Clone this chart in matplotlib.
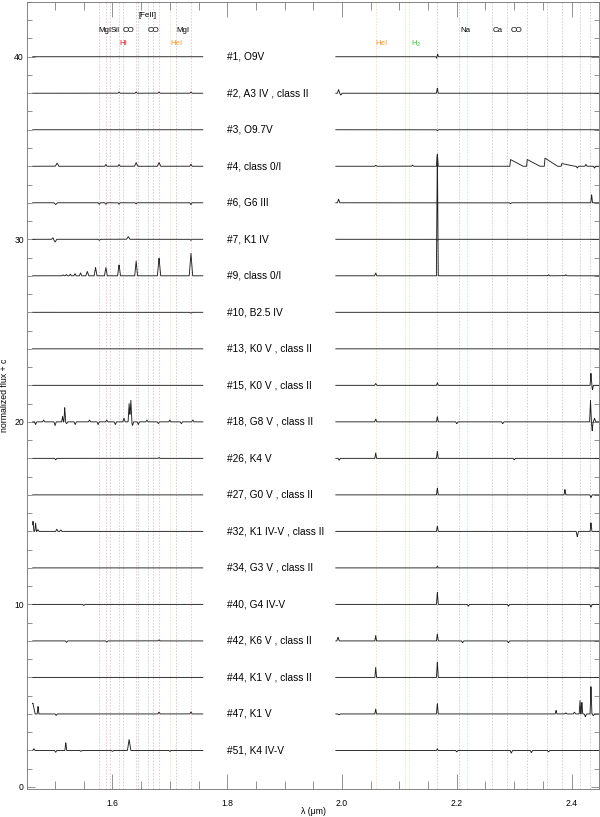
import matplotlib
matplotlib.use('Agg')
import matplotlib.pyplot as plt
from matplotlib.ticker import MultipleLocator
import numpy as np

plt.rcParams['font.family'] = ['Liberation Sans', 'DejaVu Sans']
plt.rcParams['mathtext.fontset'] = 'custom'
plt.rcParams['mathtext.rm'] = 'Liberation Sans'
plt.rcParams['mathtext.it'] = 'Liberation Sans:italic'
plt.rcParams['mathtext.bf'] = 'Liberation Sans:bold'

# ---------------- data ----------------
star_ids = ['#1', '#2', '#3', '#4', '#6', '#7', '#9', '#10', '#13', '#15',
            '#18', '#26', '#27', '#32', '#34', '#40', '#42', '#44', '#47', '#51']
spectral_types = ['O9V', 'A3 IV , class II', 'O9.7V', 'class 0/I', 'G6 III',
                  'K1 IV', 'class 0/I', 'B2.5 IV', 'K0 V , class II', 'K0 V , class II',
                  'G8 V , class II', 'K4 V', 'G0 V , class II', 'K1 IV-V , class II',
                  'G3 V , class II', 'G4 IV-V', 'K6 V , class II', 'K1 V , class II',
                  'K1 V', 'K4 IV-V']
offsets = [40, 38, 36, 34, 32, 30, 28, 26, 24, 22, 20, 18, 16, 14, 12, 10, 8, 6, 4, 2]

h_band = (1.461, 1.7575)
k_band = (1.9892, 2.448)

# (star, wavelength [um], normalized flux excess, half width [um])
h_features = [
    ('#2', 1.6114, 0.07, 0.002), ('#2', 1.6412, 0.07, 0.002), ('#2', 1.6811, 0.07, 0.002),
    ('#2', 1.7367, 0.07, 0.002),
    ('#4', 1.5034, 0.18, 0.003), ('#4', 1.5885, 0.10, 0.002), ('#4', 1.6114, 0.10, 0.002),
    ('#4', 1.6412, 0.20, 0.003), ('#4', 1.6811, 0.20, 0.003), ('#4', 1.7367, 0.12, 0.002),
    ('#6', 1.5010, -0.10, 0.003), ('#6', 1.5770, -0.08, 0.002), ('#6', 1.5885, -0.08, 0.002),
    ('#6', 1.6114, -0.08, 0.002), ('#6', 1.6412, -0.06, 0.002), ('#6', 1.7367, -0.10, 0.002),
    ('#7', 1.4960, 0.08, 0.002), ('#7', 1.5000, -0.15, 0.003), ('#7', 1.5770, -0.06, 0.002),
    ('#7', 1.6274, 0.15, 0.003), ('#7', 1.7367, -0.06, 0.002),
    ('#9', 1.5137, 0.05, 0.002), ('#9', 1.5196, 0.07, 0.002), ('#9', 1.5265, 0.09, 0.002),
    ('#9', 1.5346, 0.12, 0.002), ('#9', 1.5443, 0.16, 0.002), ('#9', 1.5561, 0.24, 0.0025),
    ('#9', 1.5705, 0.46, 0.0025), ('#9', 1.5885, 0.45, 0.0025), ('#9', 1.6114, 0.62, 0.0025),
    ('#9', 1.6412, 0.82, 0.0025), ('#9', 1.6811, 1.00, 0.0028), ('#9', 1.7367, 1.25, 0.003),
    ('#10', 1.7367, -0.05, 0.002),
    ('#18', 1.4660, -0.15, 0.002), ('#18', 1.4800, 0.10, 0.002), ('#18', 1.5000, -0.20, 0.002),
    ('#18', 1.5130, 0.30, 0.0015), ('#18', 1.5168, 0.80, 0.0015), ('#18', 1.5200, -0.10, 0.002),
    ('#18', 1.5350, -0.15, 0.002), ('#18', 1.5600, 0.10, 0.002), ('#18', 1.5750, -0.15, 0.002),
    ('#18', 1.5900, 0.10, 0.002), ('#18', 1.6050, -0.15, 0.002), ('#18', 1.6200, 0.20, 0.002),
    ('#18', 1.6290, 1.00, 0.0018), ('#18', 1.6319, 1.25, 0.0018), ('#18', 1.6350, -0.20, 0.002),
    ('#18', 1.6450, -0.15, 0.002), ('#18', 1.6600, 0.10, 0.002), ('#18', 1.6800, -0.10, 0.002),
    ('#18', 1.7000, 0.10, 0.002), ('#18', 1.7200, -0.10, 0.002), ('#18', 1.7400, 0.10, 0.002),
    ('#26', 1.5010, -0.08, 0.002), ('#26', 1.6811, 0.05, 0.002),
    ('#32', 1.4615, 0.55, 0.0015), ('#32', 1.4660, 0.45, 0.0015), ('#32', 1.4700, 0.10, 0.002),
    ('#32', 1.5030, 0.12, 0.002), ('#32', 1.5100, 0.08, 0.002),
    ('#40', 1.5500, -0.06, 0.002),
    ('#42', 1.5200, -0.08, 0.002), ('#42', 1.5900, -0.06, 0.002), ('#42', 1.6811, 0.06, 0.002),
    ('#47', 1.4612, 0.60, 0.004), ('#47', 1.4703, 0.42, 0.0015), ('#47', 1.5018, -0.08, 0.002),
    ('#47', 1.6811, 0.10, 0.002), ('#47', 1.7367, 0.12, 0.002),
    ('#51', 1.4630, 0.10, 0.002), ('#51', 1.5010, -0.10, 0.002), ('#51', 1.5186, 0.45, 0.0015),
    ('#51', 1.5450, -0.05, 0.002), ('#51', 1.6000, -0.05, 0.002), ('#51', 1.6290, 0.60, 0.003),
    ('#51', 1.7000, -0.05, 0.002),
]

k_features = [
    ('#1', 2.1650, -0.08, 0.0015), ('#1', 2.1665, 0.15, 0.0015),
    ('#2', 1.9940, 0.20, 0.002), ('#2', 1.9980, -0.10, 0.002), ('#2', 2.1661, 0.30, 0.0015),
    ('#3', 2.1661, -0.05, 0.002),
    ('#4', 2.0587, 0.05, 0.002), ('#4', 2.1230, 0.06, 0.002), ('#4', 2.1661, 0.70, 0.0015),
    ('#4', 2.4100, -0.10, 0.002), ('#4', 2.4250, 0.10, 0.002), ('#4', 2.4400, -0.10, 0.002),
    ('#6', 1.9940, 0.20, 0.002), ('#6', 2.2935, -0.05, 0.002), ('#6', 2.4350, 0.45, 0.0015),
    ('#7', 2.1661, -0.05, 0.002),
    ('#9', 2.0587, 0.15, 0.002), ('#9', 2.1661, 7.10, 0.0016), ('#9', 2.3600, 0.06, 0.002),
    ('#9', 2.3900, 0.06, 0.002),
    ('#15', 2.0587, 0.10, 0.002), ('#15', 2.1661, 0.15, 0.0015), ('#15', 2.4338, 0.70, 0.0015),
    ('#15', 2.4365, -0.25, 0.0015),
    ('#18', 2.0587, 0.15, 0.002), ('#18', 2.1661, 0.30, 0.0015), ('#18', 2.2000, -0.10, 0.002),
    ('#18', 2.2800, -0.10, 0.002), ('#18', 2.4330, 1.20, 0.0015), ('#18', 2.4360, -0.50, 0.0015),
    ('#18', 2.4400, 0.20, 0.002),
    ('#26', 1.9950, -0.10, 0.002), ('#26', 2.0587, 0.30, 0.0015), ('#26', 2.1661, 0.40, 0.0015),
    ('#26', 2.3000, -0.08, 0.002),
    ('#27', 2.1661, 0.40, 0.0015), ('#27', 2.3885, 0.30, 0.0015), ('#27', 2.4338, -0.15, 0.002),
    ('#32', 2.1661, 0.30, 0.0015), ('#32', 2.4100, -0.30, 0.002), ('#32', 2.4338, 0.50, 0.0015),
    ('#34', 2.1661, 0.10, 0.0015),
    ('#40', 2.1661, 0.70, 0.0015), ('#40', 2.2200, -0.10, 0.002), ('#40', 2.2900, -0.10, 0.002),
    ('#40', 2.4338, -0.15, 0.002),
    ('#42', 1.9930, 0.20, 0.002), ('#42', 2.0587, 0.30, 0.0015), ('#42', 2.1661, 0.40, 0.0015),
    ('#42', 2.2100, -0.10, 0.002), ('#42', 2.2900, -0.10, 0.002),
    ('#44', 2.0587, 0.55, 0.0015), ('#44', 2.1661, 0.90, 0.0015),
    ('#47', 1.9950, -0.05, 0.002), ('#47', 2.0587, 0.27, 0.0015), ('#47', 2.1661, 0.60, 0.0015),
    ('#47', 2.3730, 0.20, 0.0015), ('#47', 2.3900, 0.06, 0.002), ('#47', 2.4050, 0.10, 0.002),
    ('#47', 2.4147, 0.73, 0.0015), ('#47', 2.4180, 0.65, 0.0015), ('#47', 2.4240, -0.15, 0.002),
    ('#47', 2.4338, 1.60, 0.0015), ('#47', 2.4380, -0.10, 0.002),
    ('#51', 2.1661, 0.10, 0.0015), ('#51', 2.2000, -0.08, 0.002), ('#51', 2.2950, -0.15, 0.002),
    ('#51', 2.3300, -0.12, 0.002), ('#51', 2.3600, -0.08, 0.002),
]

# CO bandhead emission of #4 (bandhead wavelength, peak excess)
co_star = '#4'
co_bandheads = [2.2935, 2.3227, 2.3535, 2.3829]
co_peaks = [0.37, 0.37, 0.45, 0.15]
co_decay = 0.022

# dotted line identifications
h_lines = [1.5770, 1.5885, 1.5962, 1.6114, 1.6187, 1.6412, 1.6440, 1.6618, 1.6711,
           1.6811, 1.7007, 1.7109, 1.7367]
h_line_kind = ['metal', 'HI', 'metal', 'HI', 'metal', 'HI', 'metal', 'metal', 'metal',
               'HI', 'HeI', 'metal', 'HI']
k_lines = [2.0589, 2.1095, 2.1170, 2.1653, 2.2042, 2.2176, 2.2607, 2.2868, 2.3217,
           2.3566, 2.3827, 2.4147, 2.4321]
k_line_kind = ['HeI', 'H2', 'H2', 'metal', 'metal', 'blue', 'metal', 'metal', 'metal',
               'metal', 'metal', 'metal', 'metal']

label_text = ['MgI', 'SiI', 'CO', '[FeII]', 'CO', 'MgI', 'HI', 'HeI',
              'HeI', 'H$_2$', 'Na', 'Ca', 'CO']
label_wave = [1.5866, 1.6042, 1.6284, 1.6607, 1.6720, 1.7226, 1.6180, 1.7121,
              2.0695, 2.1289, 2.2143, 2.2718, 2.3032]
label_kind = ['metal', 'metal', 'metal', 'forbidden', 'metal', 'metal', 'HI', 'HeI',
              'HeI', 'H2', 'metal', 'metal', 'metal']

# ---------------- styles ----------------
line_colors = {'metal': '#c4c4c4', 'HI': '#f2b8bc', 'HeI': '#f6d8b0',
               'H2': '#d6ecb8', 'blue': '#bfe4f2'}
label_colors = {'metal': 'black', 'forbidden': 'black', 'HI': '#e82020',
                'HeI': '#f59a28', 'H2': '#30d030'}
label_levels = {'forbidden': 42.25, 'metal': 41.42, 'HI': 40.71, 'HeI': 40.71, 'H2': 40.71}


def profile(star, band, feats):
    x = np.arange(band[0], band[1], 0.00025)
    y = np.zeros_like(x)
    for s, lam, f, hw in feats:
        if s == star:
            y += f * np.clip(1.0 - np.abs(x - lam) / hw, 0, None)
    return x, y


fig = plt.figure(figsize=(6.0, 8.17), dpi=100)
ax = fig.add_axes([0.0445, 0.0343, 0.9545, 0.9633])

for lam, kind in zip(h_lines + k_lines, h_line_kind + k_line_kind):
    ax.axvline(lam, color=line_colors[kind], lw=0.55, ls=(0, (2.0, 2.0)), zorder=1)

for sid, stype, off in zip(star_ids, spectral_types, offsets):
    xh, yh = profile(sid, h_band, h_features)
    xk, yk = profile(sid, k_band, k_features)
    if sid == co_star:
        for lam, pk in zip(co_bandheads, co_peaks):
            rise = np.clip(1 - (lam - xk) / 0.001, 0, 1) * (xk <= lam)
            decay = np.clip(1 - (xk - lam) / co_decay, 0, 1) * (xk > lam)
            yk += pk * (rise + decay)
    ax.plot(xh, yh + off, color='#202020', lw=0.65, zorder=3)
    ax.plot(xk, yk + off, color='#202020', lw=0.65, zorder=3)
    ax.text(1.8, off, f'{sid}, {stype}', fontsize=7.3, ha='left', va='center', zorder=4)

for txt, lam, kind in zip(label_text, label_wave, label_kind):
    ax.text(lam, label_levels[kind], txt, fontsize=5.7, ha='center', va='center',
            color=label_colors[kind], zorder=4)

ax.set_xlim(1.4505, 2.4485)
ax.set_ylim(-0.11, 43.0)

ax.xaxis.set_major_locator(MultipleLocator(0.2))
ax.xaxis.set_minor_locator(MultipleLocator(0.05))
ax.yaxis.set_major_locator(MultipleLocator(10))
ax.yaxis.set_minor_locator(MultipleLocator(1))
ax.xaxis.set_major_formatter(matplotlib.ticker.FormatStrFormatter('%.1f'))

ax.tick_params(axis='both', which='both', direction='in', top=True, right=True,
               colors='#808080', labelcolor='black', labelsize=6.2, width=0.6)
ax.tick_params(axis='x', which='major', length=10.5, pad=7)
ax.tick_params(axis='x', which='minor', length=5.5)
ax.tick_params(axis='y', which='major', length=6, pad=2)
ax.tick_params(axis='y', which='minor', length=3.5)

for sp in ax.spines.values():
    sp.set_color('#707070')
    sp.set_linewidth(0.6)

ax.set_xlabel('λ (μm)', fontsize=6.3)
ax.set_ylabel('normalized flux + c', fontsize=6.3)
ax.xaxis.set_label_coords(0.5, -0.0225)
ax.yaxis.set_label_coords(-0.031, 0.5)

fig.savefig('out.png', dpi=100)
